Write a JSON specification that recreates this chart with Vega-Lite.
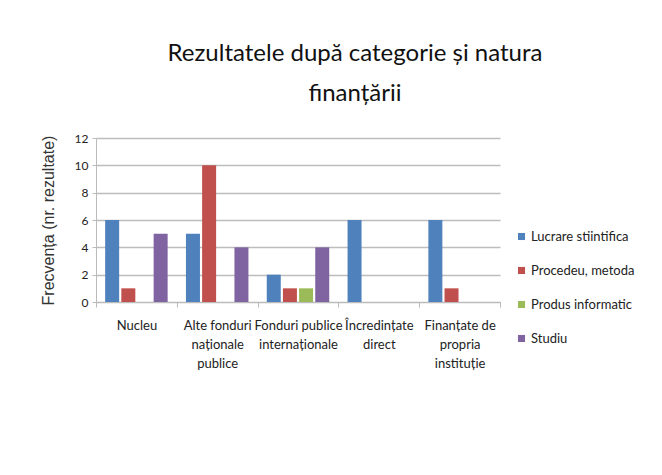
{
  "$schema": "https://vega.github.io/schema/vega-lite/v6.json",
  "autosize": "none",
  "width": 404,
  "height": 164,
  "padding": {"left": 96, "top": 138, "right": 162, "bottom": 173},
  "background": "white",
  "title": {
    "text": ["Rezultatele după categorie și natura", "finanțării"],
    "font": "Lato",
    "fontSize": 24,
    "fontWeight": "normal",
    "color": "#111111",
    "lineHeight": 40,
    "anchor": "middle",
    "dx": 57,
    "offset": 26
  },
  "data": {
    "values": [
      {"categorie": "Nucleu", "tip": "Lucrare stiintifica", "n": 6},
      {"categorie": "Nucleu", "tip": "Procedeu, metoda", "n": 1},
      {"categorie": "Nucleu", "tip": "Studiu", "n": 5},
      {"categorie": "Alte fonduri naționale publice", "tip": "Lucrare stiintifica", "n": 5},
      {"categorie": "Alte fonduri naționale publice", "tip": "Procedeu, metoda", "n": 10},
      {"categorie": "Alte fonduri naționale publice", "tip": "Studiu", "n": 4},
      {"categorie": "Fonduri publice internaționale", "tip": "Lucrare stiintifica", "n": 2},
      {"categorie": "Fonduri publice internaționale", "tip": "Procedeu, metoda", "n": 1},
      {"categorie": "Fonduri publice internaționale", "tip": "Produs informatic", "n": 1},
      {"categorie": "Fonduri publice internaționale", "tip": "Studiu", "n": 4},
      {"categorie": "Încredințate direct", "tip": "Lucrare stiintifica", "n": 6},
      {"categorie": "Finanțate de propria instituție", "tip": "Lucrare stiintifica", "n": 6},
      {"categorie": "Finanțate de propria instituție", "tip": "Procedeu, metoda", "n": 1}
    ]
  },
  "mark": {"type": "bar", "width": 14},
  "encoding": {
    "x": {
      "field": "categorie",
      "type": "nominal",
      "sort": null,
      "scale": {"paddingInner": 0, "paddingOuter": 0},
      "axis": {
        "title": null,
        "labelAngle": 0,
        "labelFont": "Lato",
        "labelFontSize": 13,
        "labelColor": "#222222",
        "labelLineHeight": 19,
        "labelPadding": 12,
        "labelBaseline": "top",
        "domainColor": "#BBBBBB",
        "tickColor": "#BBBBBB",
        "tickBand": "extent",
        "tickSize": 5,
        "grid": false,
        "labelExpr": "datum.value == 'Alte fonduri naționale publice' ? ['Alte fonduri', 'naționale', 'publice'] : datum.value == 'Fonduri publice internaționale' ? ['Fonduri publice', 'internaționale'] : datum.value == 'Încredințate direct' ? ['Încredințate', 'direct'] : datum.value == 'Finanțate de propria instituție' ? ['Finanțate de', 'propria', 'instituție'] : datum.value"
      }
    },
    "xOffset": {
      "field": "tip",
      "type": "nominal",
      "sort": ["Lucrare stiintifica", "Procedeu, metoda", "Produs informatic", "Studiu"],
      "scale": {"paddingInner": 0, "paddingOuter": 0.5}
    },
    "y": {
      "field": "n",
      "type": "quantitative",
      "scale": {"domain": [0, 12]},
      "axis": {
        "title": "Frecvența (nr. rezultate)",
        "titleFont": "Liberation Sans",
        "titleFontSize": 16,
        "titleFontWeight": "normal",
        "titleColor": "#333333",
        "titlePadding": 18,
        "values": [0, 2, 4, 6, 8, 10, 12],
        "labelFont": "Lato",
        "labelFontSize": 12,
        "labelColor": "#222222",
        "labelPadding": 4,
        "tickSize": 4,
        "tickColor": "#BBBBBB",
        "domainColor": "#BBBBBB",
        "gridColor": "#BDBDBD",
        "gridWidth": 1.5
      }
    },
    "color": {
      "field": "tip",
      "type": "nominal",
      "sort": ["Lucrare stiintifica", "Procedeu, metoda", "Produs informatic", "Studiu"],
      "scale": {
        "domain": ["Lucrare stiintifica", "Procedeu, metoda", "Produs informatic", "Studiu"],
        "range": ["#4F81BD", "#C0504D", "#9BBB59", "#8064A2"]
      },
      "legend": {
        "title": null,
        "orient": "none",
        "legendX": 419,
        "legendY": 92,
        "symbolType": "square",
        "symbolSize": 50,
        "symbolStrokeWidth": 0,
        "labelFont": "Lato",
        "labelFontSize": 13,
        "labelColor": "#222222",
        "rowPadding": 20,
        "labelOffset": 3
      }
    }
  },
  "config": {"view": {"stroke": null}}
}
